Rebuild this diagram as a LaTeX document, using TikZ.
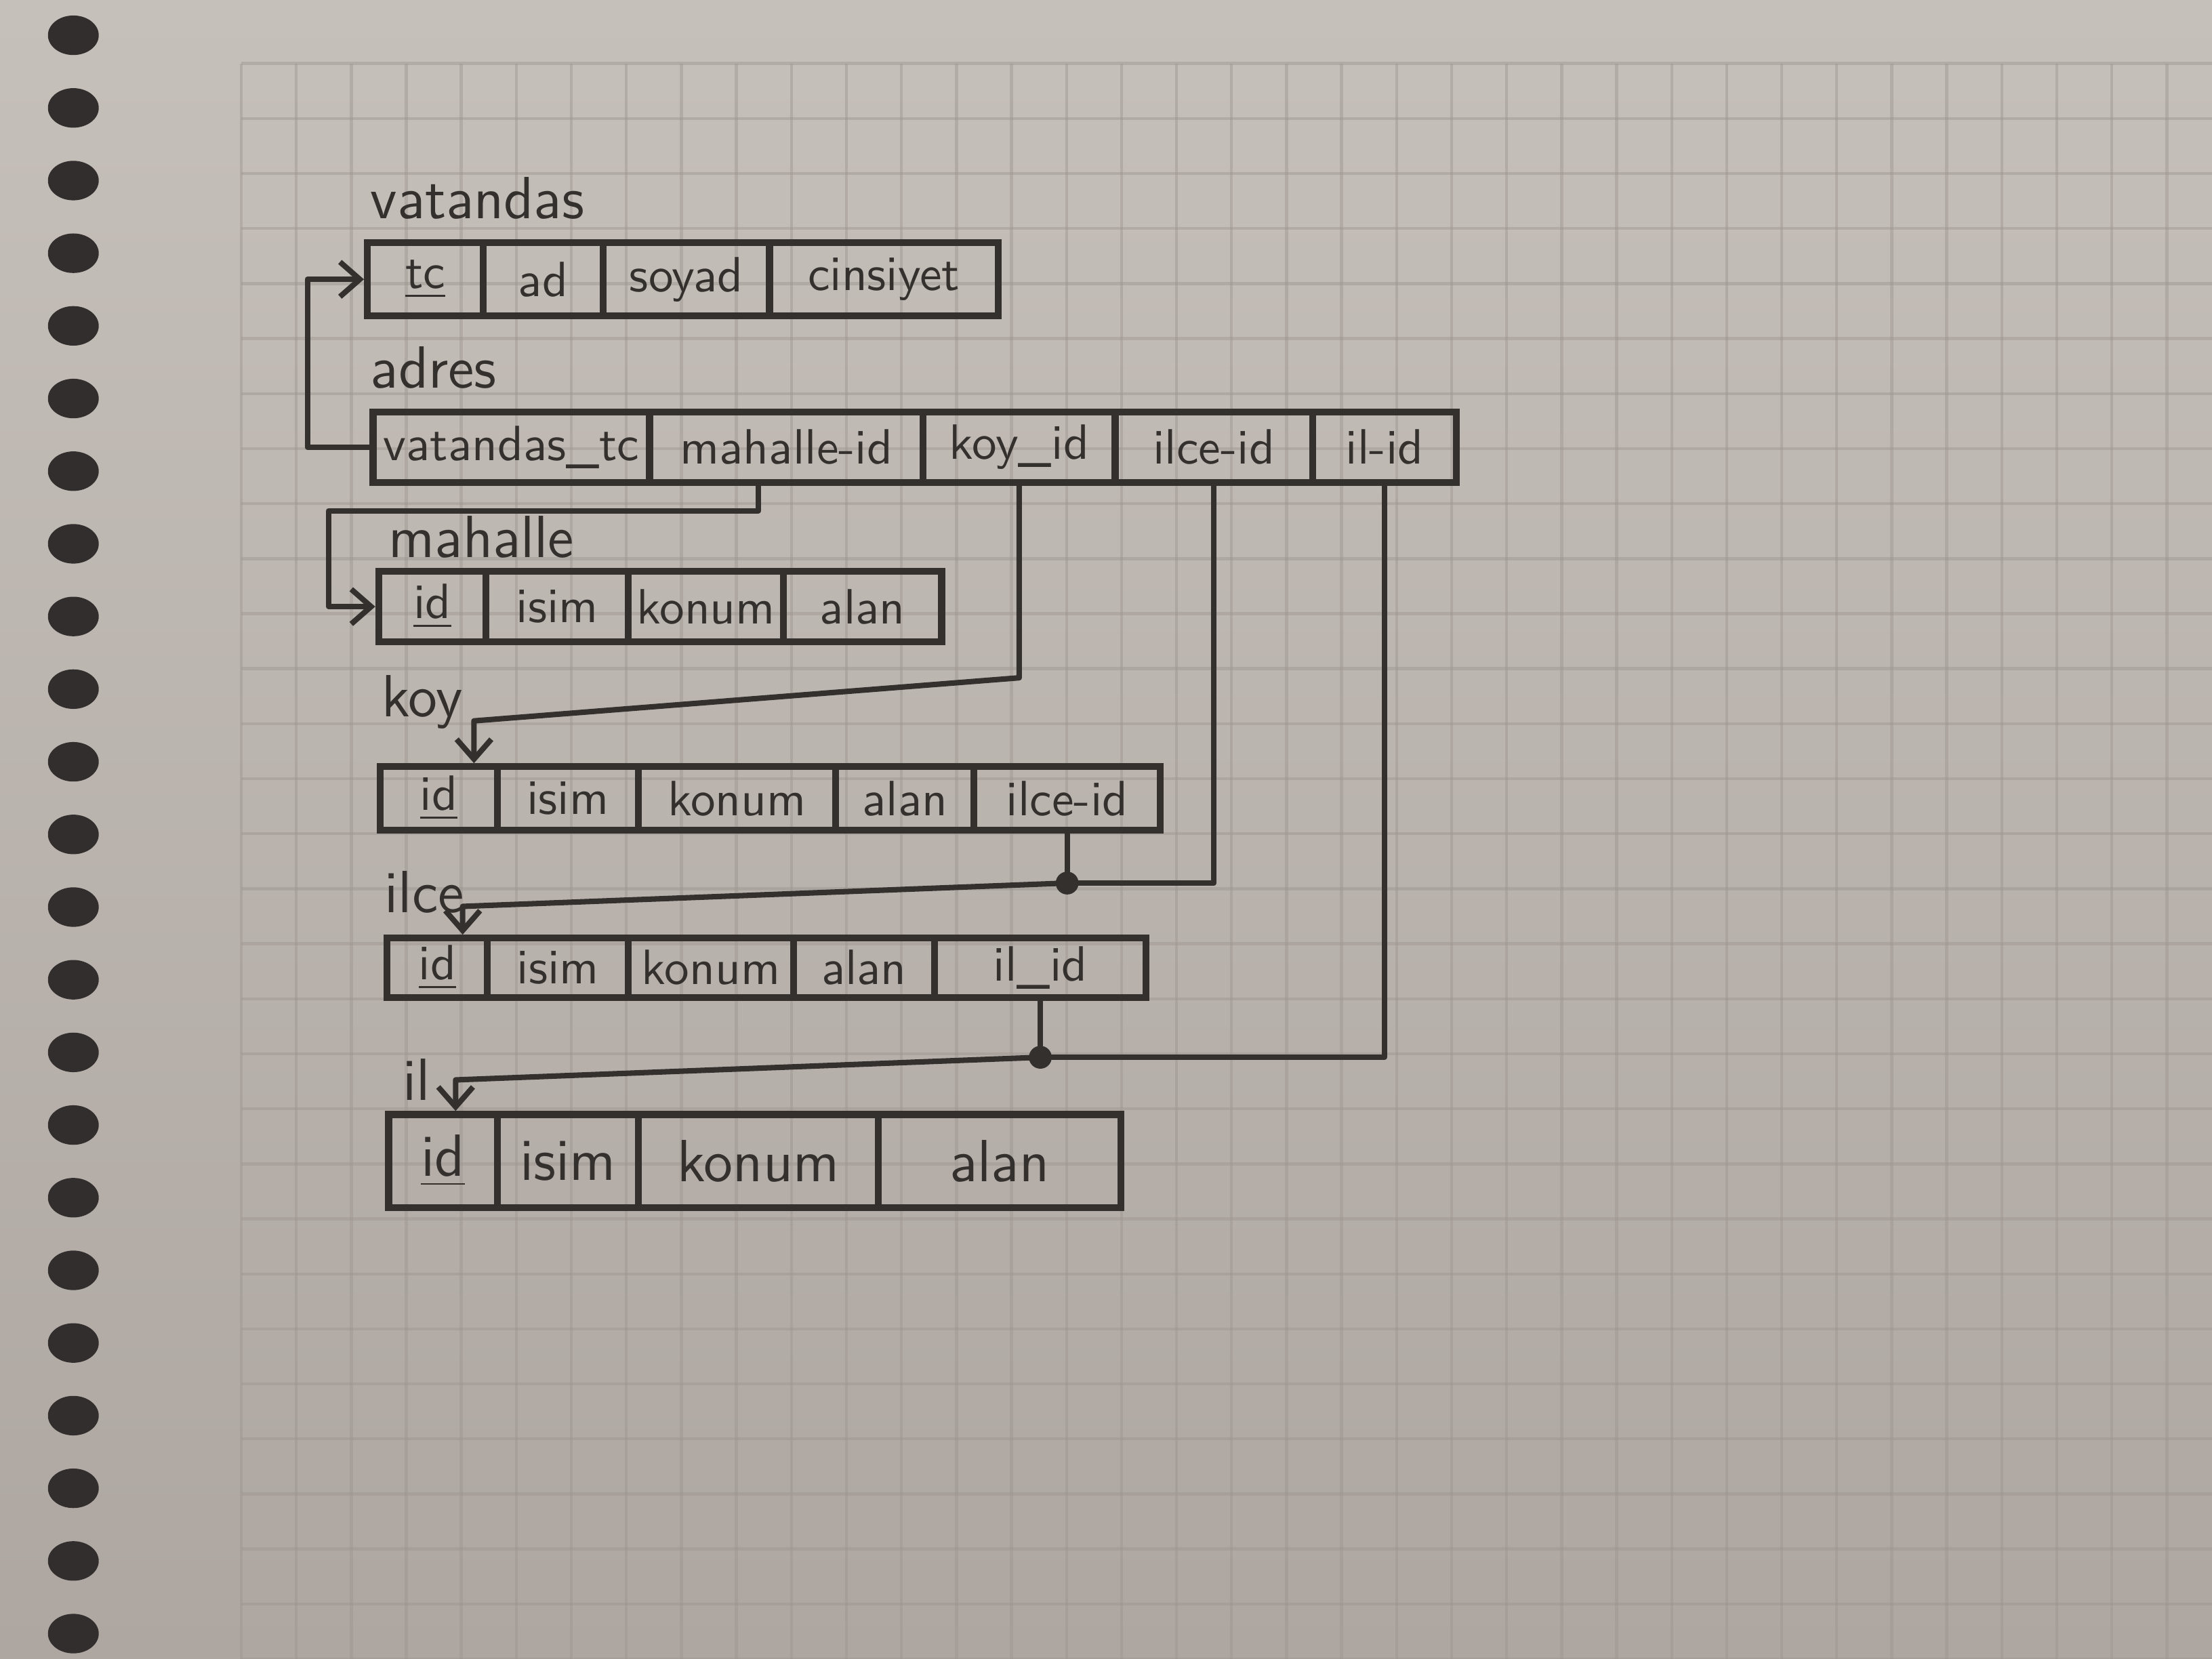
\documentclass[tikz,border=0pt]{standalone}
\usepackage{xcolor}
\definecolor{paperTop}{HTML}{C6C0BA}
\definecolor{paperBot}{HTML}{AEA7A1}
\definecolor{gridCol}{HTML}{9C9590}
\definecolor{ink}{HTML}{34302E}
\definecolor{ringCol}{HTML}{332E2E}
\usetikzlibrary{calc,arrows.meta,positioning}

\begin{document}
\begin{tikzpicture}[x=0.01cm, y=-0.01cm, >={Straight Barb[length=4pt,width=7pt]},
    cell/.style={draw=ink, line width=1.4pt, anchor=west, inner sep=0pt, text=ink,
        font=\sffamily\fontsize{10}{12}\selectfont},
    bigcell/.style={cell, font=\sffamily\fontsize{12}{14}\selectfont},
    tname/.style={anchor=base west, inner sep=0pt, text=ink,
        font=\sffamily\fontsize{12}{14}\selectfont},
    link/.style={draw=ink, line width=1.1pt, line join=round},
    joint/.style={fill=ink}]
    \useasboundingbox (0,0) rectangle (1568,1176);

    % Notebook page
    \shade[top color=paperTop, bottom color=paperBot] (0,0) rectangle (1568,1176);
    \foreach \gx in {171,210,...,1568}
        \draw[gridCol, opacity=0.45, line width=0.6pt] (\gx,45) -- (\gx,1176);
    \foreach \gy in {45,84,...,1176}
        \draw[gridCol, opacity=0.45, line width=0.6pt] (171,\gy) -- (1568,\gy);
    \foreach \k in {0,...,22}
        \fill[ringCol] (52,{25+51.5*\k}) ellipse [x radius=0.18cm, y radius=0.14cm];

    % vatandas
    \node[tname] (nVat) at (262,155) {vatandas};
    \foreach \xa/\xb/\txt/\nm in {258/340/\underline{tc}/vTc, 340/425/ad/vAd,
        425/543/soyad/vSoyad, 543/705/cinsiyet/vCins}
        \node[cell, minimum width={(\xb-\xa)*0.01cm}, minimum height=0.52cm] (\nm) at (\xa,198) {\txt};

    % adres
    \node[tname] (nAdr) at (262,275) {adres};
    \foreach \xa/\xb/\txt/\nm in {262/458/vatandas\_tc/aTc, 458/652/mahalle-id/aMah,
        652/788/koy\_id/aKoy, 788/928/ilce-id/aIlce, 928/1030/il-id/aIl}
        \node[cell, minimum width={(\xb-\xa)*0.01cm}, minimum height=0.50cm] (\nm) at (\xa,317) {\txt};

    % mahalle
    \node[tname] (nMah) at (275,395) {mahalle};
    \foreach \xa/\xb/\txt/\nm in {266/342/\underline{id}/mId, 342/443/isim/mIsim,
        443/553/konum/mKonum, 553/665/alan/mAlan}
        \node[cell, minimum width={(\xb-\xa)*0.01cm}, minimum height=0.50cm] (\nm) at (\xa,430) {\txt};

    % koy
    \node[tname] (nKoy) at (270,508) {koy};
    \foreach \xa/\xb/\txt/\nm in {267/350/\underline{id}/kId, 350/450/isim/kIsim,
        450/590/konum/kKonum, 590/688/alan/kAlan, 688/820/ilce-id/kIlce}
        \node[cell, minimum width={(\xb-\xa)*0.01cm}, minimum height=0.45cm] (\nm) at (\xa,566) {\txt};

    % ilce
    \node[tname] (nIlce) at (272,647) {ilce};
    \foreach \xa/\xb/\txt/\nm in {272/343/\underline{id}/iId, 343/443/isim/iIsim,
        443/560/konum/iKonum, 560/660/alan/iAlan, 660/810/il\_id/iIl}
        \node[cell, minimum width={(\xb-\xa)*0.01cm}, minimum height=0.42cm] (\nm) at (\xa,686) {\txt};

    % il
    \node[tname] (nIl) at (285,780) {il};
    \foreach \xa/\xb/\txt/\nm in {273/350/\underline{id}/lId, 350/450/isim/lIsim,
        450/620/konum/lKonum, 620/792/alan/lAlan}
        \node[bigcell, minimum width={(\xb-\xa)*0.01cm}, minimum height=0.66cm] (\nm) at (\xa,823) {\txt};

    % Foreign keys
    \draw[link, ->] (aTc.west) -- ++(-44,0) |- (vTc.west);
    \draw[link, ->] ([xshift=-0.2cm]aMah.south) |- ($(mId.west)+(-33,-68)$) |- (mId.west);
    \draw[link, ->] (aKoy.south) -- ++(0,136)
        -- ([xshift=0.25cm, yshift=0.3cm]kId.north) -- ([xshift=0.25cm]kId.north);

    \coordinate (jIlce) at ($(kIlce.south)+(0,35)$);
    \draw[link] (aIlce.south) |- (jIlce);
    \draw[link] (kIlce.south) -- (jIlce);
    \draw[link, ->] (jIlce) -- ([xshift=0.18cm, yshift=0.2cm]iId.north) -- ([xshift=0.18cm]iId.north);
    \fill[joint] (jIlce) circle (2.3pt);

    \coordinate (jIl) at ($(iIl.south)+(0,40)$);
    \draw[link] (aIl.south) |- (jIl);
    \draw[link] (iIl.south) -- (jIl);
    \draw[link, ->] (jIl) -- ([xshift=0.09cm, yshift=0.22cm]lId.north) -- ([xshift=0.09cm]lId.north);
    \fill[joint] (jIl) circle (2.3pt);
\end{tikzpicture}
\end{document}
